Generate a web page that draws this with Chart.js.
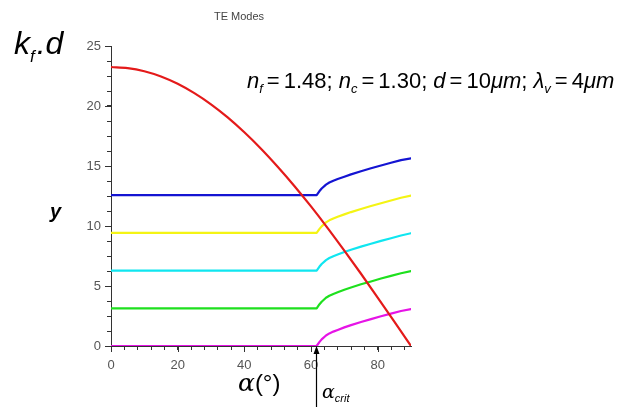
<!DOCTYPE html>
<html><head><meta charset="utf-8">
<script src="https://cdn.jsdelivr.net/npm/chart.js@4.4.0/dist/chart.umd.min.js"></script>
<style>html,body{margin:0;padding:0;background:#fff;overflow:hidden}</style>
</head><body>
<canvas id="c" width="622" height="407"></canvas>
<script>
// ---- data ----
const alphaRed = [0,5,10,15,20,25,30,35,40,45,50,55,60,65,70,75,80,85,90];
const kfdRed   = [23.25,23.16,22.90,22.46,21.85,21.07,20.14,19.05,17.81,16.44,14.94,13.34,11.63,9.83,7.95,6.02,4.04,2.03,0];
const alphaModes = [0,61.7,62.5,63.2,64.5,65.5,66.7,68,70,72,75,78,81,84,87,90];
const modeMagenta = [0,0,0.32,0.55,0.88,1.05,1.20,1.34,1.55,1.74,2.00,2.24,2.48,2.70,2.92,3.08];
const modeGreen   = [3.14,3.14,3.46,3.69,4.02,4.19,4.34,4.48,4.69,4.88,5.14,5.38,5.62,5.84,6.06,6.24];
const modeCyan    = [6.28,6.28,6.60,6.83,7.16,7.33,7.48,7.62,7.83,8.02,8.28,8.52,8.76,8.98,9.21,9.40];
const modeYellow  = [9.42,9.42,9.74,9.97,10.30,10.47,10.62,10.77,10.97,11.16,11.42,11.67,11.90,12.13,12.35,12.54];
const modeBlue    = [12.57,12.57,12.89,13.12,13.45,13.62,13.77,13.91,14.11,14.30,14.56,14.81,15.04,15.27,15.49,15.64];
const xMajorTicks = [0,20,40,60,80];
const yMajorTicks = [0,5,10,15,20,25];
const alphaCrit = 61.44;

const pts = (xs, ys) => xs.map((x, i) => ({x, y: ys[i]}));
const ds = (xs, ys, color, smooth) => ({data: pts(xs, ys), borderColor: color, borderWidth: 2.2,
  pointRadius: 0, fill: false, tension: 0, cubicInterpolationMode: smooth ? 'monotone' : 'default',
  borderJoinStyle: 'round', borderCapStyle: 'round'});

const AXIS = '#333';
const LBL = '#555';

const deco = {
  id: 'deco',
  afterDraw(chart) {
    const ctx = chart.ctx, xs = chart.scales.x, ys = chart.scales.y;
    ctx.save();
    ctx.strokeStyle = AXIS; ctx.lineWidth = 1;
    const yb = ys.getPixelForValue(0), xl = xs.getPixelForValue(0);
    xMajorTicks.forEach(v => { const px = Math.round(xs.getPixelForValue(v)) + 0.5;
      ctx.beginPath(); ctx.moveTo(px, yb); ctx.lineTo(px, yb + 6); ctx.stroke(); });
    yMajorTicks.forEach(v => { const py = Math.round(ys.getPixelForValue(v)) + 0.5;
      ctx.beginPath(); ctx.moveTo(xl, py); ctx.lineTo(xl - 6, py); ctx.stroke(); });

    const runs = (x, y, list) => { ctx.textBaseline = 'alphabetic'; ctx.textAlign = 'left';
      for (const r of list) { ctx.font = r.f; ctx.fillText(r.t, x, y + (r.dy || 0));
        x += ctx.measureText(r.t).width + (r.dx || 0); } return x; };
    const F = '"Liberation Sans", Arial, sans-serif';

    ctx.fillStyle = '#444'; ctx.font = '11px ' + F; ctx.textAlign = 'center';
    ctx.fillText('TE Modes', 239, 20);

    ctx.fillStyle = '#000';
    runs(14, 54, [{t:'k', f:'italic 32px ' + F, dx:0}, {t:'f', f:'italic 17px ' + F, dy:8, dx:2}, {t:'.d', f:'italic 32px ' + F}]);
    runs(50, 218, [{t:'y', f:'bold italic 20px ' + F}]);
    const N = '22px ' + F, I = 'italic 22px ' + F, S = 'italic 13px ' + F;
    runs(247, 88, [
      {t:'n', f:I}, {t:'f', f:S, dy:5, dx:4}, {t:'=', f:N, dx:4}, {t:'1.48; ', f:N},
      {t:'n', f:I}, {t:'c', f:S, dy:5, dx:4}, {t:'=', f:N, dx:4}, {t:'1.30; ', f:N},
      {t:'d', f:I, dx:4}, {t:'=', f:N, dx:4}, {t:'10', f:N}, {t:'\u03bcm', f:I}, {t:'; ', f:N},
      {t:'\u03bb', f:I}, {t:'v', f:S, dy:5, dx:4}, {t:'=', f:N, dx:4}, {t:'4', f:N}, {t:'\u03bcm', f:I}
    ]);
    runs(238, 391, [{t:'\u03b1', f:'italic 25px "DejaVu Serif", serif'}, {t:'(\u00b0)', f:'24px ' + F}]);
    const ax = Math.round(xs.getPixelForValue(alphaCrit)) + 0.5;
    ctx.strokeStyle = '#000'; ctx.lineWidth = 1.2;
    ctx.beginPath(); ctx.moveTo(ax, 407); ctx.lineTo(ax, yb + 2); ctx.stroke();
    ctx.beginPath(); ctx.moveTo(ax, yb); ctx.lineTo(ax - 3, yb + 8); ctx.lineTo(ax + 3, yb + 8); ctx.closePath(); ctx.fill();
    runs(322, 398, [{t:'\u03b1', f:'italic 19px "DejaVu Serif", serif'}, {t:'crit', f:'italic 11px ' + F, dy:4}]);
    ctx.restore();
  }
};

new Chart(document.getElementById('c'), {
  type: 'line',
  data: { datasets: [
    ds(alphaRed, kfdRed, '#e41a1a', true),
    ds(alphaModes, modeBlue, '#1414d2'),
    ds(alphaModes, modeYellow, '#f4f414'),
    ds(alphaModes, modeCyan, '#10e6f0'),
    ds(alphaModes, modeGreen, '#1ee01e'),
    ds(alphaModes, modeMagenta, '#e614e6')
  ]},
  options: {
    responsive: false, animation: false, devicePixelRatio: 1,
    layout: { padding: { left: 0, right: 211, top: 46, bottom: 31 } },
    plugins: { legend: { display: false }, tooltip: { enabled: false }, title: { display: false } },
    scales: {
      x: { type: 'linear', min: 0, max: 90,
        afterFit: s => { s.height = 30; },
        border: { display: true, color: AXIS, width: 1 },
        grid: { display: true, drawOnChartArea: false, drawTicks: true, tickLength: 4, color: AXIS, tickColor: AXIS },
        ticks: { stepSize: 4, includeBounds: false, autoSkip: false, maxRotation: 0, padding: 8, color: LBL,
          font: { family: '"Liberation Sans", Arial, sans-serif', size: 13 },
          callback: v => (v % 20 === 0 ? String(v) : '') } },
      y: { type: 'linear', min: 0, max: 25,
        afterFit: s => { s.width = 111; },
        border: { display: true, color: AXIS, width: 1 },
        grid: { display: true, drawOnChartArea: false, drawTicks: true, tickLength: 4, color: AXIS, tickColor: AXIS },
        ticks: { stepSize: 1.25, autoSkip: false, padding: 6, color: LBL,
          font: { family: '"Liberation Sans", Arial, sans-serif', size: 13 },
          callback: v => (Math.abs(v % 5) < 1e-9 ? String(v) : '') } }
    }
  },
  plugins: [deco]
});
</script>
</body></html>
